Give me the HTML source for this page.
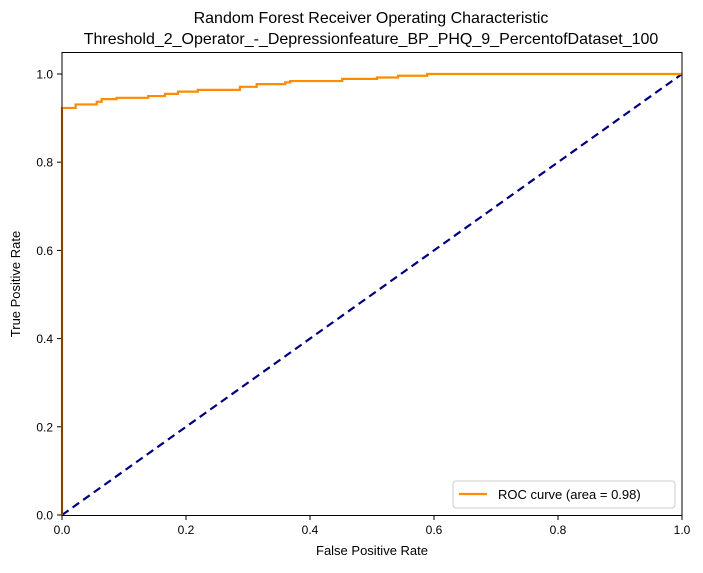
<!DOCTYPE html>
<html><head><meta charset="utf-8"><style>
body{margin:0;background:#fff;}
svg text{font-family:"Liberation Sans","DejaVu Sans",sans-serif;fill:#000;}
</style></head><body>
<svg id="chart" width="703" height="568" xmlns="http://www.w3.org/2000/svg">
<text x="371" y="23" font-size="16" text-anchor="middle">Random Forest Receiver Operating Characteristic</text>
<text x="371" y="44" font-size="16" text-anchor="middle">Threshold_2_Operator_-_Depressionfeature_BP_PHQ_9_PercentofDataset_100</text>
<g id="ticks"></g>
<path id="diag" fill="none" stroke="#000080" stroke-width="2.2" stroke-dasharray="8,5"/>
<path id="roc" fill="none" stroke="#ff8c00" stroke-width="2.2"/>
<rect x="62" y="52.5" width="620" height="463" fill="none" stroke="#000" stroke-width="1"/>
<text x="372" y="555" font-size="13" text-anchor="middle">False Positive Rate</text>
<text transform="translate(20,284) rotate(-90)" font-size="13" text-anchor="middle">True Positive Rate</text>
<g>
<rect x="453" y="481" width="222" height="27" rx="3" fill="#fff" stroke="#ccc"/>
<line x1="459" y1="494" x2="487" y2="494" stroke="#ff8c00" stroke-width="2.2"/>
<text x="498" y="499" font-size="13">ROC curve (area = 0.98)</text>
</g>
</svg>
<script>
const fpr=[0,0,0.022,0.022,0.056,0.064,0.088,0.139,0.166,0.187,0.219,0.287,0.314,0.36,0.368,0.452,0.508,0.542,0.589,1];
const tpr=[0,0.923,0.923,0.931,0.937,0.943,0.946,0.95,0.955,0.96,0.964,0.971,0.977,0.981,0.984,0.989,0.992,0.996,1,1];
const tickVals=[0,0.2,0.4,0.6,0.8,1.0];
const tickLabels=["0.0","0.2","0.4","0.6","0.8","1.0"];
const X=v=>62+v*620, Y=v=>515-v*441;
let d="M"+X(fpr[0])+","+Y(tpr[0]);
for(let i=1;i<fpr.length;i++){d+=" H"+X(fpr[i])+" V"+Y(tpr[i]);}
document.getElementById('roc').setAttribute('d',d);
document.getElementById('diag').setAttribute('d',"M"+X(0)+","+Y(0)+" L"+X(1)+","+Y(1));
const g=document.getElementById('ticks'),ns="http://www.w3.org/2000/svg";
tickVals.forEach((v,i)=>{
 let l=document.createElementNS(ns,'line');l.setAttribute('x1',X(v));l.setAttribute('x2',X(v));l.setAttribute('y1',515);l.setAttribute('y2',520);l.setAttribute('stroke','#000');
 
 g.appendChild(l);
 let t=document.createElementNS(ns,'text');t.setAttribute('x',X(v));t.setAttribute('y',534);t.setAttribute('font-size','12');t.setAttribute('text-anchor','middle');t.textContent=tickLabels[i];
 
 g.appendChild(t);
 let l2=document.createElementNS(ns,'line');l2.setAttribute('x1',57);l2.setAttribute('x2',62);l2.setAttribute('y1',Y(v));l2.setAttribute('y2',Y(v));l2.setAttribute('stroke','#000');
 
 g.appendChild(l2);
 let t2=document.createElementNS(ns,'text');t2.setAttribute('x',53);t2.setAttribute('y',Y(v)+4.5);t2.setAttribute('font-size','12');t2.setAttribute('text-anchor','end');t2.textContent=tickLabels[i];
 
 g.appendChild(t2);
});
</script>
</body></html>
